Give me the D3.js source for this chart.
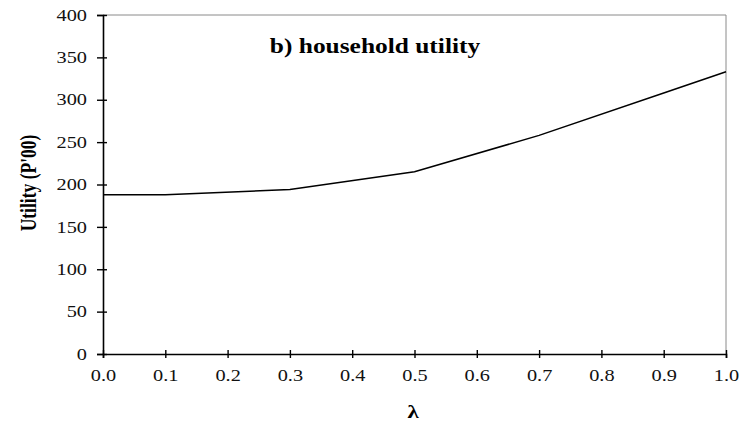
<!DOCTYPE html>
<html><head><meta charset="utf-8">
<script src="https://cdn.jsdelivr.net/npm/d3@7"></script>
<style>body{margin:0;background:#fff}svg{display:block}</style>
</head><body>
<svg id="c" width="747" height="428"></svg>
<script>
const lambdas = [0.0, 0.1, 0.3, 0.5, 0.7, 0.9, 1.0];
const utility = [188, 188, 194, 215, 258, 308, 333];
const xTicks = [0.0,0.1,0.2,0.3,0.4,0.5,0.6,0.7,0.8,0.9,1.0];
const yTicks = [0,50,100,150,200,250,300,350,400];
const title = "b) household utility";
const yTitle = "Utility (P'00)";
const xTitle = "λ";

const svg = d3.select("#c");
const L = 103, R = 726, T = 15, B = 354;
const SX = 1.27; // horizontal stretch of the glyphs
const x = d3.scaleLinear().domain([0,1]).range([L,R]);
const y = d3.scaleLinear().domain([0,400]).range([B,T]);
const serif = "'Liberation Serif','Times New Roman',serif";

svg.append("path").attr("d", `M${L},${T}H${R}V${B}`).attr("fill","none").attr("stroke","#8a8a8a").attr("stroke-width",1);

const yAxis = svg.append("g").attr("transform",`translate(${L},0)`)
  .call(d3.axisLeft(y).tickValues(yTicks).tickSize(6).tickPadding(10).tickFormat(d3.format("d")));
const xAxis = svg.append("g").attr("transform",`translate(0,${B})`)
  .call(d3.axisBottom(x).tickValues(xTicks).tickSize(4).tickPadding(12).tickFormat(d3.format(".1f")));
[yAxis,xAxis].forEach(a=>{
  a.select(".domain").attr("stroke","#000").attr("stroke-width",1.6);
  a.selectAll(".tick line").attr("stroke","#000").attr("stroke-width",1.4);
  a.selectAll("text").attr("font-family",serif).attr("font-size",16).attr("fill","#111");
});
yAxis.selectAll("text").attr("x", -16/SX).attr("transform",`scale(${SX},1)`);
xAxis.selectAll("text").attr("transform",`scale(${SX},1)`);
yAxis.selectAll(".tick line").attr("x1",4).attr("x2",-6);
xAxis.selectAll(".tick line").attr("y1",-4).attr("y2",4);

svg.append("path").datum(lambdas.map((l,i)=>[l,utility[i]]))
  .attr("d", d3.line().x(d=>x(d[0])).y(d=>y(d[1])))
  .attr("fill","none").attr("stroke","#000").attr("stroke-width",1.5);

svg.append("text").attr("transform",`translate(375,53) scale(${SX},1)`).attr("text-anchor","middle")
  .attr("font-family",serif).attr("font-weight","bold").attr("font-size",20).text(title);
svg.append("text").attr("transform",`translate(36,183) scale(${SX},1) rotate(-90)`).attr("text-anchor","middle")
  .attr("font-family",serif).attr("font-weight","bold").attr("font-size",17.5).text(yTitle);
svg.append("text").attr("transform",`translate(413,418) scale(${SX},1)`).attr("text-anchor","middle")
  .attr("font-family",serif).attr("font-weight","bold").attr("font-size",18).text(xTitle);
</script>
</body></html>
